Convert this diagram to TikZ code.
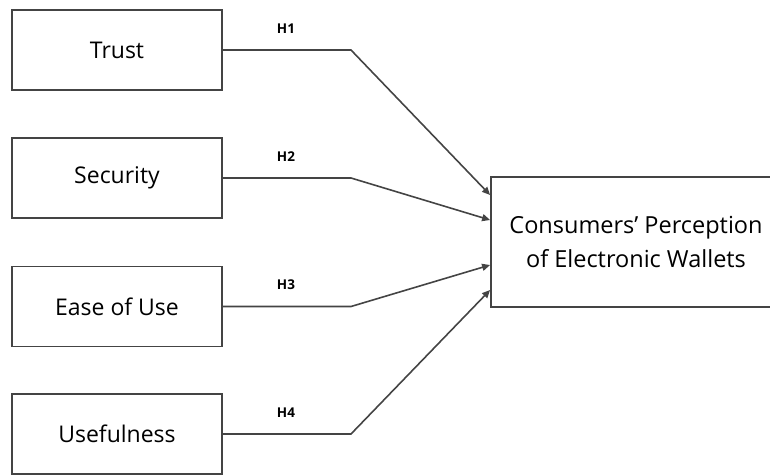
\documentclass[tikz,border=0pt]{standalone}
\usepackage{fontspec}
\setmainfont{Open Sans}
\usetikzlibrary{arrows.meta}
\definecolor{ln}{HTML}{444444}
\tikzset{
  box/.style={draw=ln, line width=1.8pt, minimum width=210pt, minimum height=80pt, inner sep=0pt, font=\fontsize{23}{26}\selectfont},
  tbox/.style={draw=ln, line width=1.8pt, minimum width=290pt, minimum height=130pt, inner sep=0pt, align=center, font=\fontsize{23.5}{34}\selectfont},
  conn/.style={draw=ln, line width=1.6pt, -{Triangle[length=8pt,width=7pt]}},
  hl/.style={font=\bfseries\fontsize{13.5}{15}\selectfont}
}
\begin{document}
\begin{tikzpicture}[x=1pt,y=-1pt]
\useasboundingbox (0,0) rectangle (770,474);
\clip (0,0) rectangle (770,474);
\node[box] (trust) at (117,50) {Trust};
\node[box] (sec) at (117,178) {Security};
\node[box] (ease) at (117,306.5) {Ease of Use};
\node[box] (use) at (117,434) {Usefulness};
\node[tbox] (tgt) at (636,242) {Consumers’ Perception\\of Electronic Wallets};
\coordinate (b1) at (351,50);
\coordinate (b2) at (351,178);
\coordinate (b3) at (351,306.5);
\coordinate (b4) at (351,434);
\coordinate (e1) at ([yshift=47pt]tgt.west);
\coordinate (e2) at ([yshift=22pt]tgt.west);
\coordinate (e3) at ([yshift=-23pt]tgt.west);
\coordinate (e4) at ([yshift=-48pt]tgt.west);
\draw[conn] (trust.east) -- (b1) -- (e1);
\draw[conn] (sec.east) -- (b2) -- (e2);
\draw[conn] (ease.east) -- (b3) -- (e3);
\draw[conn] (use.east) -- (b4) -- (e4);
\node[hl] (h1) at (286,29) {H1};
\node[hl] (h2) at (286,157) {H2};
\node[hl] (h3) at (286,285) {H3};
\node[hl] (h4) at (286,413) {H4};
\end{tikzpicture}
\end{document}
